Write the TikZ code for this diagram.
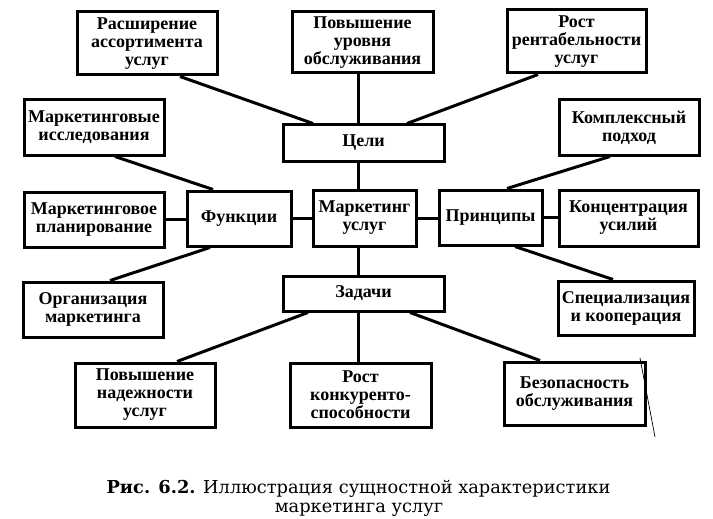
\documentclass[tikz,border=0pt]{standalone}
\usepackage{fontspec}
\setmainfont{Liberation Serif}
\newfontfamily\capfont{DejaVu Serif}
\begin{document}
\begin{tikzpicture}[x=1pt,y=-1pt,
  box/.style={draw, line width=3pt, align=center, inner sep=0pt,
    font=\bfseries\fontsize{18}{18}\selectfont},
  link/.style={line width=3pt},
  thinline/.style={line width=0.7pt},
  captext/.style={anchor=base, inner sep=0pt, font=\capfont\fontsize{17.8}{19}\selectfont}]
\useasboundingbox[fill=white] (0,0) rectangle (713,519);
% top row
\node[box, minimum width=140pt, minimum height=63pt] (ras) at (147,43.5) {Расширение\\ассортимента\\услуг};
\node[box, minimum width=141pt, minimum height=61pt] (pov) at (362.5,42.5) {Повышение\\уровня\\обслуживания};
\node[box, minimum width=139pt, minimum height=63pt] (rost) at (576.5,41.5) {Рост\\рентабельности\\услуг};
% second row
\node[box, minimum width=161pt, minimum height=36pt] (celi) at (363.5,143) {Цели};
\node[box, minimum width=140pt, minimum height=55pt] (mi) at (94,127.5) {Маркетинговые\\исследования};
\node[box, minimum width=140pt, minimum height=55pt] (kp) at (629,127.5) {Комплексный\\подход};
% middle row
\node[box, minimum width=140pt, minimum height=55pt] (mp) at (94,219.5) {Маркетинговое\\планирование};
\node[box, minimum width=104pt, minimum height=55pt] (fun) at (239,218.5) {Функции};
\node[box, minimum width=103pt, minimum height=56pt] (mu) at (364.5,218) {Маркетинг\\услуг};
\node[box, minimum width=103pt, minimum height=55pt] (pr) at (490.5,217.5) {Принципы};
\node[box, minimum width=139pt, minimum height=56pt] (ku) at (628.5,218) {Концентрация\\усилий};
% lower rows
\node[box, minimum width=161pt, minimum height=35pt] (zad) at (363.5,293.5) {Задачи};
\node[box, minimum width=140pt, minimum height=55pt] (org) at (93,309.5) {Организация\\маркетинга};
\node[box, minimum width=136pt, minimum height=54pt] (sk) at (626,308) {Специализация\\и кооперация};
\node[box, minimum width=140pt, minimum height=64pt] (pn) at (145,395) {Повышение\\надежности\\услуг};
\node[box, minimum width=141pt, minimum height=64pt] (rk) at (360.5,395) {Рост\\конкуренто-\\способности};
\node[box, minimum width=141pt, minimum height=63pt] (bo) at (574.5,393.5) {Безопасность\\обслуживания};
% vertical axis
\coordinate (vx) at (358,0);
\draw[link] (pov.south -| vx) -- (celi.north -| vx);
\draw[link] (celi.south -| vx) -- (mu.north -| vx);
\draw[link] (mu.south -| vx) -- (zad.north -| vx);
\draw[link] (zad.south -| vx) -- (rk.north -| vx);
% horizontal axis
\draw[link] (mp.east) -- (mp.east -| fun.west);
\draw[link] (fun.east) -- (fun.east -| mu.west);
\draw[link] (mu.east) -- (mu.east -| pr.west);
\draw[link] (pr.east) -- (pr.east -| ku.west);
% diagonals
\draw[link] ([xshift=33pt]ras.south) -- ([xshift=-50.5pt]celi.north);
\draw[link] ([xshift=-38.5pt]rost.south) -- ([xshift=43.5pt]celi.north);
\draw[link] ([xshift=21pt]mi.south) -- ([xshift=-26pt]fun.north);
\draw[link] ([xshift=-19pt]kp.south) -- ([xshift=16.5pt]pr.north);
\draw[link] ([xshift=-29pt]fun.south) -- ([xshift=17pt]org.north);
\draw[link] ([xshift=24.5pt]pr.south) -- ([xshift=-13pt]sk.north);
\draw[link] ([xshift=-55.5pt]zad.south) -- ([xshift=32pt]pn.north);
\draw[link] ([xshift=46.5pt]zad.south) -- ([xshift=-34.5pt]bo.north);
% stray scan line
\coordinate (s1) at (640,358);
\coordinate (s2) at (655,437);
\draw[thinline] (s1) -- (s2);
% caption
\node[captext] (cap1) at (358.5,493) {{\bfseries Рис. 6.2.} Иллюстрация сущностной характеристики};
\node[captext] (cap2) at (359,512) {маркетинга услуг};
\end{tikzpicture}
\end{document}
